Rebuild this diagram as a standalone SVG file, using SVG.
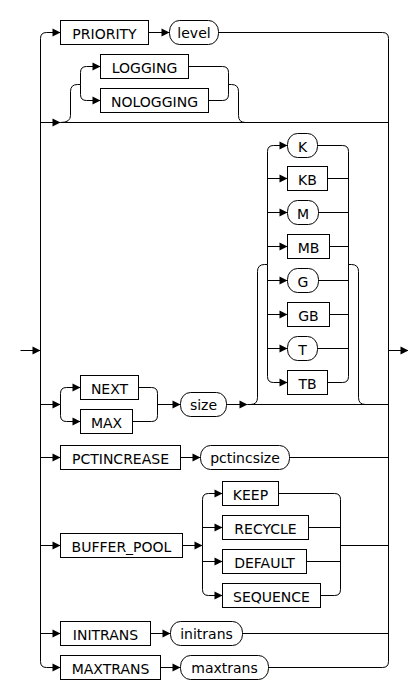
<svg xmlns="http://www.w3.org/2000/svg" width="408" height="689" viewBox="0 0 408 689">
<style>
.c{fill:none;stroke:#000;stroke-width:1}
.b{fill:#fff;stroke:#000;stroke-width:1}
.o{fill:#fff;stroke:#000;stroke-width:1}
text{font-family:"DejaVu Sans","Liberation Sans",sans-serif;font-size:14px;fill:#000;text-anchor:middle}
</style>
<defs>
<marker id="a" markerUnits="userSpaceOnUse" markerWidth="9" markerHeight="9" refX="8" refY="4" orient="auto" overflow="visible">
<path d="M0,0 L8,4 L0,8 Z" fill="#000"/>
</marker>
</defs>
<rect width="408" height="689" fill="#fff"/>
<g transform="translate(0.5,0.5)">
<g id="connectors" class="c">
<path d="M20 350 L40 350" marker-end="url(#a)"/>
<path d="M388 350 L408 350" marker-end="url(#a)"/>
<path d="M40 38 L40 661"/>
<path d="M388 38 L388 661"/>
<path d="M40 38 Q40 32 46 32 L60 32" marker-end="url(#a)"/>
<path d="M148 32 L169 32" marker-end="url(#a)"/>
<path d="M218 32 L382 32 Q388 32 388 38"/>
<path d="M40 122 L60 122" marker-end="url(#a)"/>
<path d="M60 122 L388 122"/>
<path d="M60 122 Q70 122 70 115 L70 91 Q70 84 77 84 L80 84"/>
<path d="M80 84 L80 72 Q80 66 86 66 L100 66" marker-end="url(#a)"/>
<path d="M80 84 L80 94 Q80 100 86 100 L100 100" marker-end="url(#a)"/>
<path d="M188 66 L222 66 Q228 66 228 72 L228 94 Q228 100 222 100 L208 100"/>
<path d="M228 84 L231 84 Q238 84 238 91 L238 115 Q238 122 245 122"/>
<path d="M40 404 L60 404" marker-end="url(#a)"/>
<path d="M60 404 L60 393 Q60 387 66 387 L80 387" marker-end="url(#a)"/>
<path d="M60 404 L60 415 Q60 421 66 421 L80 421" marker-end="url(#a)"/>
<path d="M138 387 L151 387 Q157 387 157 393 L157 415 Q157 421 151 421 L132 421"/>
<path d="M157 404 L180 404" marker-end="url(#a)"/>
<path d="M226 404 L247 404" marker-end="url(#a)"/>
<path d="M247 404 L388 404"/>
<path d="M250 404 Q257 404 257 397 L257 271 Q257 264 264 264 L267 264"/>
<path d="M348 264 L351 264 Q358 264 358 271 L358 397 Q358 404 365 404"/>
<path d="M267 264 L267 151 Q267 145 273 145 L287 145" marker-end="url(#a)"/>
<path d="M267 264 L267 376 Q267 382 273 382 L287 382" marker-end="url(#a)"/>
<path d="M267 178 L287 178" marker-end="url(#a)"/>
<path d="M267 212 L287 212" marker-end="url(#a)"/>
<path d="M267 246 L287 246" marker-end="url(#a)"/>
<path d="M267 280 L287 280" marker-end="url(#a)"/>
<path d="M267 314 L287 314" marker-end="url(#a)"/>
<path d="M267 348 L287 348" marker-end="url(#a)"/>
<path d="M317 145 L342 145 Q348 145 348 151 L348 376 Q348 382 342 382 L327 382"/>
<path d="M327 178 L348 178 M318 212 L348 212 M329 246 L348 246 M318 280 L348 280 M329 314 L348 314 M317 348 L348 348"/>
<path d="M40 457 L60 457" marker-end="url(#a)"/>
<path d="M180 457 L200 457" marker-end="url(#a)"/>
<path d="M289 457 L388 457"/>
<path d="M40 545 L60 545" marker-end="url(#a)"/>
<path d="M182 545 L202 545" marker-end="url(#a)"/>
<path d="M202 545 L202 499 Q202 493 208 493 L222 493" marker-end="url(#a)"/>
<path d="M202 545 L202 589 Q202 595 208 595 L222 595" marker-end="url(#a)"/>
<path d="M202 527 L222 527" marker-end="url(#a)"/>
<path d="M202 561 L222 561" marker-end="url(#a)"/>
<path d="M278 493 L334 493 Q340 493 340 499 L340 589 Q340 595 334 595 L320 595"/>
<path d="M308 527 L340 527 M306 561 L340 561 M340 545 L388 545"/>
<path d="M40 633 L60 633" marker-end="url(#a)"/>
<path d="M150 633 L170 633" marker-end="url(#a)"/>
<path d="M242 633 L388 633"/>
<path d="M40 661 Q40 667 46 667 L60 667" marker-end="url(#a)"/>
<path d="M160 667 L180 667" marker-end="url(#a)"/>
<path d="M268 667 L382 667 Q388 667 388 661"/>
</g>
<g id="n_priority"><rect class="b" x="60" y="20" width="88" height="24"/><text x="104" y="38.5">PRIORITY</text></g>
<g id="n_level"><rect class="o" x="169" y="20" width="49" height="24" rx="10" ry="11"/><text x="193.5" y="37">level</text></g>
<g id="n_logging"><rect class="b" x="100" y="54" width="88" height="24"/><text x="144" y="72.5">LOGGING</text></g>
<g id="n_nologging"><rect class="b" x="100" y="88" width="108" height="24"/><text x="154" y="106.5">NOLOGGING</text></g>
<g id="n_k"><rect class="o" x="287" y="133" width="30" height="24" rx="10" ry="11"/><text x="302" y="151.5">K</text></g>
<g id="n_kb"><rect class="b" x="287" y="166" width="40" height="24"/><text x="307" y="184.5">KB</text></g>
<g id="n_m"><rect class="o" x="287" y="200" width="31" height="24" rx="10" ry="11"/><text x="302.5" y="218.5">M</text></g>
<g id="n_mb"><rect class="b" x="287" y="234" width="42" height="24"/><text x="308" y="252.5">MB</text></g>
<g id="n_g"><rect class="o" x="287" y="268" width="31" height="24" rx="10" ry="11"/><text x="302.5" y="286.5">G</text></g>
<g id="n_gb"><rect class="b" x="287" y="302" width="42" height="24"/><text x="308" y="320.5">GB</text></g>
<g id="n_t"><rect class="o" x="287" y="336" width="30" height="24" rx="10" ry="11"/><text x="302" y="354.5">T</text></g>
<g id="n_tb"><rect class="b" x="287" y="370" width="40" height="24"/><text x="307" y="388.5">TB</text></g>
<g id="n_next"><rect class="b" x="80" y="375" width="58" height="24"/><text x="109" y="393.5">NEXT</text></g>
<g id="n_max"><rect class="b" x="80" y="409" width="52" height="24"/><text x="106" y="427.5">MAX</text></g>
<g id="n_size"><rect class="o" x="180" y="392" width="46" height="24" rx="10" ry="11"/><text x="203" y="409">size</text></g>
<g id="n_pctincrease"><rect class="b" x="60" y="445" width="120" height="24"/><text x="120" y="463.5">PCTINCREASE</text></g>
<g id="n_pctincsize"><rect class="o" x="200" y="445" width="89" height="24" rx="10" ry="11"/><text x="244.5" y="462">pctincsize</text></g>
<g id="n_buffer_pool"><rect class="b" x="60" y="533" width="122" height="24"/><text x="121" y="551.5">BUFFER_POOL</text></g>
<g id="n_keep"><rect class="b" x="222" y="481" width="56" height="24"/><text x="250" y="499.5">KEEP</text></g>
<g id="n_recycle"><rect class="b" x="222" y="515" width="86" height="24"/><text x="265" y="533.5">RECYCLE</text></g>
<g id="n_default"><rect class="b" x="222" y="549" width="84" height="24"/><text x="264" y="567.5">DEFAULT</text></g>
<g id="n_sequence"><rect class="b" x="222" y="583" width="98" height="24"/><text x="271" y="601.5">SEQUENCE</text></g>
<g id="n_initrans"><rect class="b" x="60" y="621" width="90" height="24"/><text x="105" y="639.5">INITRANS</text></g>
<g id="n_initrans_v"><rect class="o" x="170" y="621" width="72" height="24" rx="10" ry="11"/><text x="206" y="638">initrans</text></g>
<g id="n_maxtrans"><rect class="b" x="60" y="655" width="100" height="24"/><text x="110" y="673.5">MAXTRANS</text></g>
<g id="n_maxtrans_v"><rect class="o" x="180" y="655" width="88" height="24" rx="10" ry="11"/><text x="224" y="672">maxtrans</text></g>
</g>
</svg>
